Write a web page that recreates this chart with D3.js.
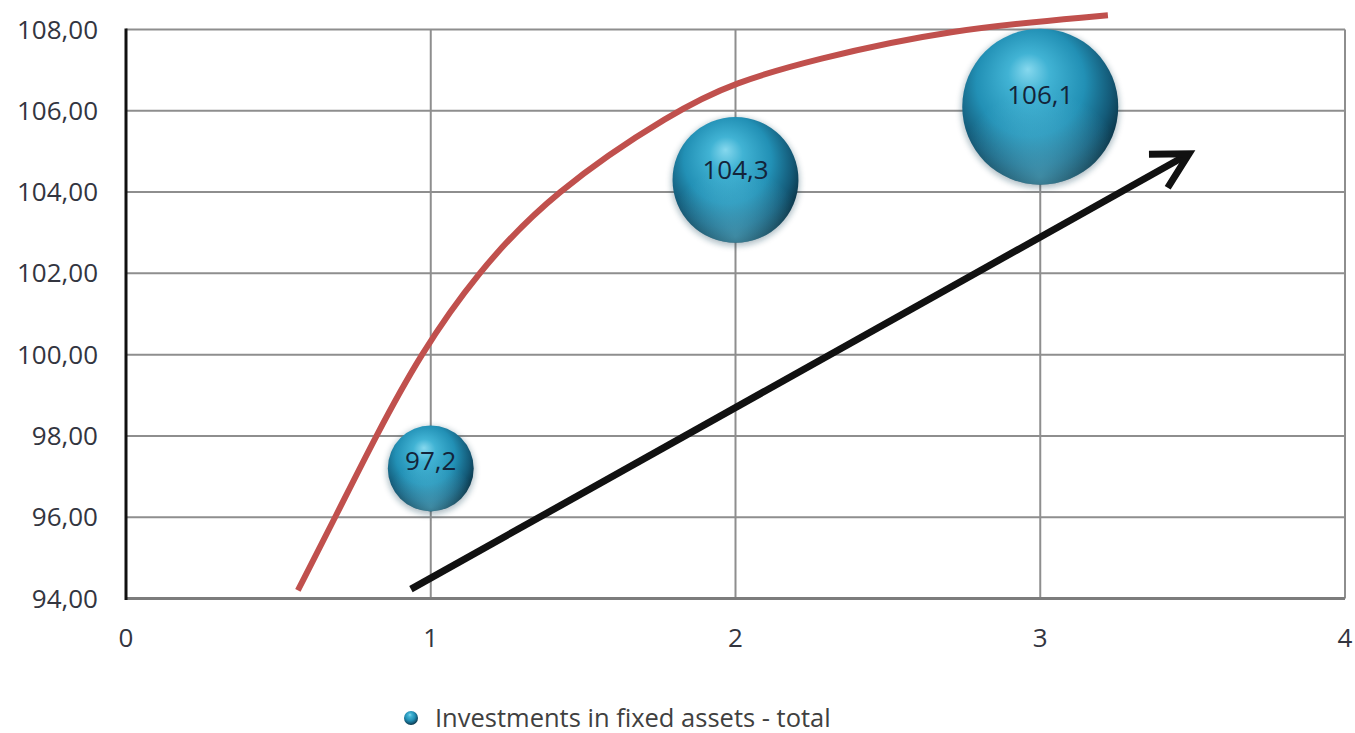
<!DOCTYPE html>
<html>
<head>
<meta charset="utf-8">
<script src="https://cdn.jsdelivr.net/npm/d3@7"></script>
<style>
    body { margin: 0; background: #fff; }
    .tick-label { font-family: "Open Sans", sans-serif; font-size: 26px; fill: #33353f; }
    .bubble-label { font-family: "Open Sans", sans-serif; font-size: 26px; fill: #13243a; }
    .legend-label { font-family: "Open Sans", sans-serif; font-size: 25.5px; fill: #404040; }
</style>
</head>
<body>
<div id="chart"></div>
<script>

// Bubble series
var xValues = [1, 2, 3];
var yValues = [97.2, 104.3, 106.1];
var bubbleSizes = [1.0, 2.15, 3.3];
var bubbleLabels = ["97,2", "104,3", "106,1"];

// Axis ticks
var xTicks = [0, 1, 2, 3, 4];
var yTicks = [94, 96, 98, 100, 102, 104, 106, 108];

// Red trend curve
var trendX = [0.564, 0.69, 0.82, 0.965, 1.15, 1.40, 1.80, 2.0, 2.25, 2.694, 3.222];
var trendY = [94.2, 96.05, 98.0, 100.0, 102.0, 104.0, 106.0, 106.7, 107.25, 108.0, 108.35];

// Black arrow (start, end)
var arrowX = [0.935, 3.488];
var arrowY = [94.23, 104.94];

var legendLabel = "Investments in fixed assets - total";


BubbleVis = function(_parentElement){
    this.parentElement = _parentElement;
    this.initVis();
}

BubbleVis.prototype.initVis = function(){
    var vis = this;

    vis.width = 1355;
    vis.height = 733;

    vis.svg = d3.select("#" + vis.parentElement).append("svg")
        .attr("width", vis.width)
        .attr("height", vis.height);

    // scales
    vis.x = d3.scaleLinear().domain([0, 4]).range([126, 1345]);
    vis.y = d3.scaleLinear().domain([94, 108]).range([598.5, 29.5]);
    vis.r = d3.scaleSqrt().domain([0, 3.3]).range([0, 78]);

    var defs = vis.svg.append("defs");

    var grad = defs.append("radialGradient")
        .attr("id", "sphere")
        .attr("cx", "45%").attr("cy", "40%").attr("r", "60%")
        .attr("fx", "42%").attr("fy", "26%");
    grad.append("stop").attr("offset", "0%").attr("stop-color", "#86d8ee");
    grad.append("stop").attr("offset", "22%").attr("stop-color", "#41b3d4");
    grad.append("stop").attr("offset", "58%").attr("stop-color", "#2290b5");
    grad.append("stop").attr("offset", "84%").attr("stop-color", "#145b79");
    grad.append("stop").attr("offset", "100%").attr("stop-color", "#0a3447");

    // soft rim light at the bottom
    var rim = defs.append("radialGradient")
        .attr("id", "rim")
        .attr("cx", "50%").attr("cy", "95%").attr("r", "55%");
    rim.append("stop").attr("offset", "0%").attr("stop-color", "#6fd0ea").attr("stop-opacity", 0.5);
    rim.append("stop").attr("offset", "100%").attr("stop-color", "#6fd0ea").attr("stop-opacity", 0);

    var shadow = defs.append("filter").attr("id", "blur")
        .attr("x", "-30%").attr("y", "-30%").attr("width", "160%").attr("height", "160%");
    shadow.append("feGaussianBlur").attr("stdDeviation", 3);

    // grid
    vis.svg.append("g").attr("class", "grid")
        .selectAll("line")
        .data(yTicks.slice(1))
        .enter().append("line")
        .attr("x1", vis.x(0)).attr("x2", vis.x(4))
        .attr("y1", d => vis.y(d)).attr("y2", d => vis.y(d))
        .attr("stroke", "#8e8e8e")
        .attr("stroke-width", 2);

    vis.svg.append("g").attr("class", "grid")
        .selectAll("line")
        .data(xTicks.slice(1))
        .enter().append("line")
        .attr("x1", d => vis.x(d)).attr("x2", d => vis.x(d))
        .attr("y1", vis.y(108)).attr("y2", vis.y(94))
        .attr("stroke", "#8e8e8e")
        .attr("stroke-width", 2);

    // axes lines
    vis.svg.append("line")
        .attr("x1", vis.x(0)).attr("x2", vis.x(4))
        .attr("y1", vis.y(94)).attr("y2", vis.y(94))
        .attr("stroke", "#7c7c7c")
        .attr("stroke-width", 3);

    vis.svg.append("line")
        .attr("x1", vis.x(0)).attr("x2", vis.x(0))
        .attr("y1", vis.y(108) - 1).attr("y2", vis.y(94) + 1.5)
        .attr("stroke", "#111")
        .attr("stroke-width", 3);

    // tick labels
    var fmt = d => d3.format(".2f")(d).replace(".", ",");
    vis.svg.append("g")
        .selectAll("text")
        .data(yTicks)
        .enter().append("text")
        .attr("class", "tick-label")
        .attr("x", 98)
        .attr("y", d => vis.y(d) + 9)
        .attr("text-anchor", "end")
        .text(fmt);

    vis.svg.append("g")
        .selectAll("text")
        .data(xTicks)
        .enter().append("text")
        .attr("class", "tick-label")
        .attr("x", d => vis.x(d))
        .attr("y", 647)
        .attr("text-anchor", "middle")
        .text(d => d);

    vis.wrangleData();
}

BubbleVis.prototype.wrangleData = function(){
    var vis = this;

    vis.displayData = xValues.map(function(d, i){
        return {x: d, y: yValues[i], size: bubbleSizes[i], label: bubbleLabels[i]};
    });
    vis.trendData = trendX.map((d, i) => [d, trendY[i]]);

    vis.updateVis();
}

BubbleVis.prototype.updateVis = function(){
    var vis = this;

    // red curve
    var line = d3.line()
        .x(d => vis.x(d[0]))
        .y(d => vis.y(d[1]))
        .curve(d3.curveBasis);

    vis.svg.append("path")
        .datum(vis.trendData)
        .attr("d", line)
        .attr("fill", "none")
        .attr("stroke", "#c0504d")
        .attr("stroke-width", 6);

    // bubbles
    var bubbles = vis.svg.selectAll(".bubble")
        .data(vis.displayData)
        .enter().append("g")
        .attr("class", "bubble")
        .attr("transform", d => "translate(" + vis.x(d.x) + "," + vis.y(d.y) + ")");

    bubbles.append("circle")
        .attr("r", d => vis.r(d.size) + 1)
        .attr("cy", 2)
        .attr("fill", "#0e3e52")
        .attr("opacity", 0.35)
        .attr("filter", "url(#blur)");

    bubbles.append("circle")
        .attr("r", d => vis.r(d.size))
        .attr("fill", "url(#sphere)");

    bubbles.append("circle")
        .attr("r", d => vis.r(d.size))
        .attr("fill", "url(#rim)");

    bubbles.append("text")
        .attr("class", "bubble-label")
        .attr("text-anchor", "middle")
        .attr("y", d => -vis.r(d.size) * 0.12 + 7)
        .text(d => d.label);

    // black arrow
    var x1 = vis.x(arrowX[0]), y1 = vis.y(arrowY[0]);
    var x2 = vis.x(arrowX[1]), y2 = vis.y(arrowY[1]);
    var ang = Math.atan2(y1 - y2, x1 - x2);
    var len = 40, spread = 0.5;
    var head = "M" + (x2 + len * Math.cos(ang + spread)) + "," + (y2 + len * Math.sin(ang + spread)) +
        "L" + x2 + "," + y2 +
        "L" + (x2 + len * Math.cos(ang - spread)) + "," + (y2 + len * Math.sin(ang - spread));

    vis.svg.append("line")
        .attr("x1", x1).attr("y1", y1)
        .attr("x2", x2 - 4 * Math.cos(ang + Math.PI)).attr("y2", y2 - 4 * Math.sin(ang + Math.PI))
        .attr("stroke", "#111")
        .attr("stroke-width", 7);

    vis.svg.append("path")
        .attr("d", head)
        .attr("fill", "none")
        .attr("stroke", "#111")
        .attr("stroke-width", 7)
        .attr("stroke-linejoin", "miter");

    // legend
    var legend = vis.svg.append("g")
        .attr("transform", "translate(411,718)");

    legend.append("circle")
        .attr("r", 7)
        .attr("fill", "url(#sphere)");

    legend.append("text")
        .attr("class", "legend-label")
        .attr("x", 24)
        .attr("y", 9)
        .text(legendLabel);
}

var bubbleVis = new BubbleVis("chart");

</script>
</body>
</html>
